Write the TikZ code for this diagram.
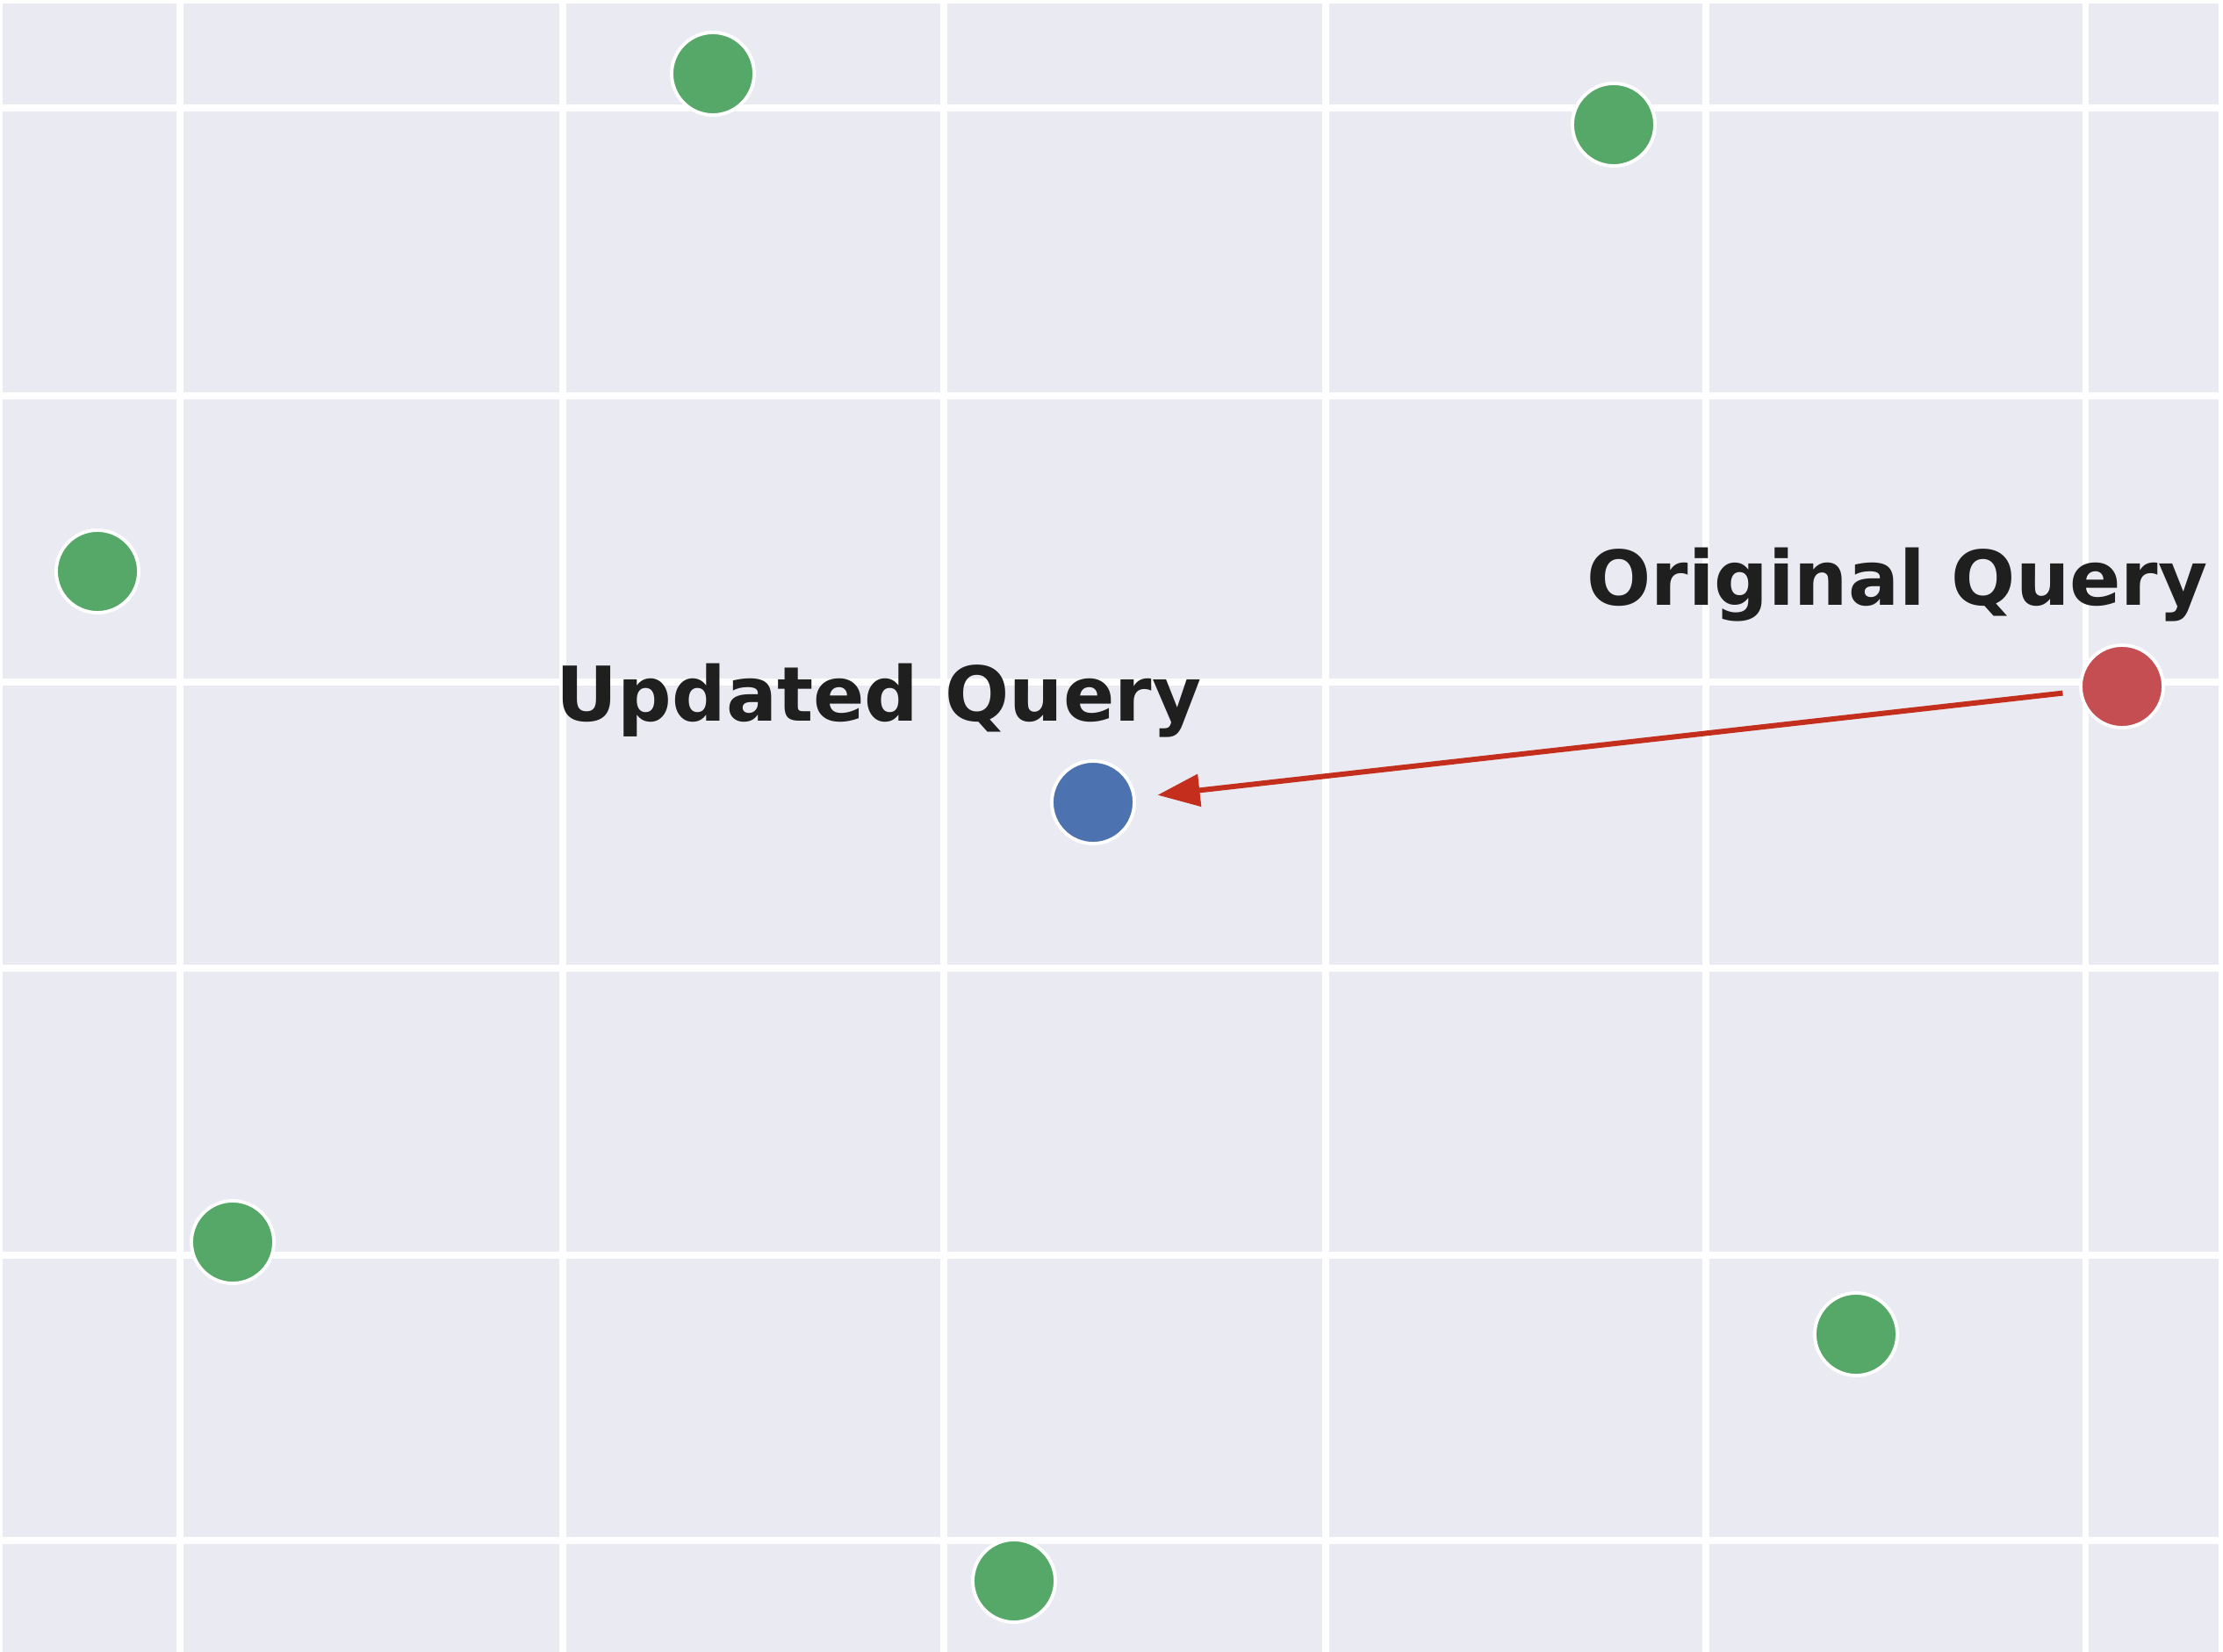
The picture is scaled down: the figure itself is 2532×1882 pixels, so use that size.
\documentclass[tikz,border=0pt]{standalone}
\usepackage{fontspec}
\setmainfont{DejaVu Sans}
\usetikzlibrary{arrows.meta,positioning}
\definecolor{panel}{HTML}{EAEAF2}
\definecolor{docgreen}{HTML}{55A868}
\definecolor{querired}{HTML}{C44E52}
\definecolor{queryblue}{HTML}{4C72B0}
\definecolor{moveline}{RGB}{196,46,28}
\begin{document}
\begin{tikzpicture}[
  x=0.01cm, y=-0.01cm,
  gridline/.style={white, line width=2pt},
  dot/.style={
    circle,
    draw=white,
    line width=1.1pt,
    inner sep=0pt,
    minimum size=0.94cm
  },
  doc/.style={dot, fill=docgreen},
  label/.style={
    font=\fontsize{24.5}{28}\selectfont\bfseries,
    text=black!88,
    inner sep=0pt
  },
  arr/.style={-{Triangle[length=0.48cm,width=0.36cm]},moveline,line width=1.7pt}
]
\useasboundingbox (0,0) rectangle (2532,1882);
\fill[white] (0,0) rectangle (2532,1882);
\fill[panel] (3,4) rectangle (2527,1882);

% grid
\draw[gridline] (205,4) -- (205,1882);
\draw[gridline] (641,4) -- (641,1882);
\draw[gridline] (1075,4) -- (1075,1882);
\draw[gridline] (1510,4) -- (1510,1882);
\draw[gridline] (1943,4) -- (1943,1882);
\draw[gridline] (2375,4) -- (2375,1882);
\draw[gridline] (3,123) -- (2527,123);
\draw[gridline] (3,451) -- (2527,451);
\draw[gridline] (3,777) -- (2527,777);
\draw[gridline] (3,1103) -- (2527,1103);
\draw[gridline] (3,1430) -- (2527,1430);
\draw[gridline] (3,1755) -- (2527,1755);

% documents
\node[doc] (doca) at (812,84) {};
\node[doc] (docb) at (1838,142) {};
\node[doc] (docc) at (111,651) {};
\node[doc] (docd) at (265,1415) {};
\node[doc] (doce) at (2114,1520) {};
\node[doc] (docf) at (1155,1801) {};

% queries
\node[dot, fill=querired] (orig) at (2417,782) {};
\node[dot, fill=queryblue] (upd) at (1245,914) {};
\node[label] (origlabel) at (2161,666) {Original Query};
\node[label] (updlabel) at (1001,798) {Updated Query};

\draw[arr, shorten <=0.19cm, shorten >=0.25cm] (orig) -- (upd);
\end{tikzpicture}
\end{document}
